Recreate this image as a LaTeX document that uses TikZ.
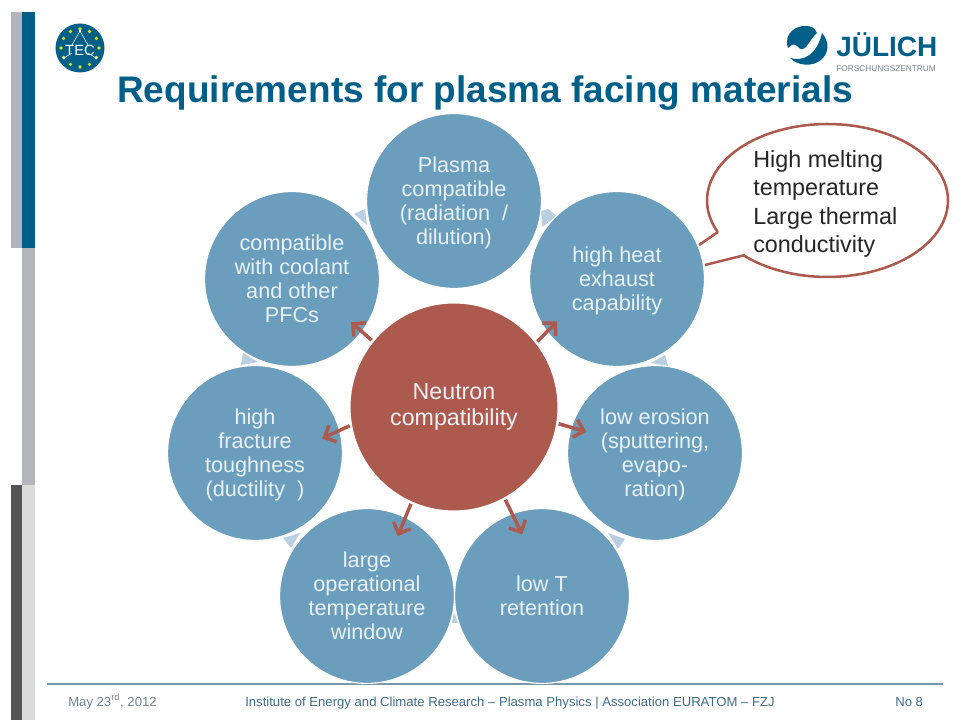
\documentclass[tikz,border=0pt]{standalone}
\usepackage{fontspec}
\setmainfont{Liberation Sans}
\usetikzlibrary{calc, arrows.meta}
\definecolor{petrol}{HTML}{005F88}
\definecolor{bluedisc}{HTML}{6B9DBD}
\definecolor{reddisc}{HTML}{AD5A4E}
\definecolor{wedgeblue}{HTML}{BACFDF}
\definecolor{barpale}{HTML}{B3B4BC}
\definecolor{bardark}{HTML}{555558}
\definecolor{barlight}{HTML}{DADBDB}
\definecolor{footblue}{HTML}{3F6C88}
\definecolor{footgrey}{HTML}{6F8390}
\definecolor{disctext}{HTML}{E8F1F6}
\tikzset{
    topic/.style={circle,fill=bluedisc,draw=white,line width=0.8pt,minimum size=4.37cm,inner sep=0pt,align=center,text=disctext,text depth=0pt,font=\fontsize{15.4}{17}\selectfont},
    core/.style={circle,fill=reddisc,draw=white,line width=0.8pt,minimum size=5.2cm,inner sep=0pt,align=center,text=disctext,font=\fontsize{16.5}{18.5}\selectfont},
    push/.style={draw=reddisc,line width=2.5pt,-{Straight Barb[length=6.5pt,width=13pt]},shorten <=1pt},
    wedge/.style={fill=wedgeblue},
    footer/.style={anchor=base west,inner sep=0pt,font=\fontsize{9.33}{11}\selectfont},
}
\begin{document}
\begin{tikzpicture}[x=0.025cm,y=-0.025cm]
    \useasboundingbox (0,0) rectangle (960,720);
    \fill[white] (0,0) rectangle (960,720);
    % side bars
    \fill[barpale] (11,12) rectangle (22,248);
    \fill[petrol] (22,12) rectangle (35,248);
    \fill[barpale] (22,248) rectangle (35,485);
    \fill[bardark] (11,485) rectangle (22,720);
    \fill[barlight] (22,485) rectangle (35,720);
    % TEC logo
    \fill[petrol] (80,48) circle (24.5);
    \foreach \a in {0,30,...,330}{
        \fill[yellow!85!green] ($(80,48)+(\a:19)$) circle (1.8);
    }
    \draw[white,line width=0.4pt] (72,45)--(80,31)--(88,45);
    \draw[white,line width=0.4pt] (64,58)--(72,53);
    \draw[white,line width=0.4pt] (96,58)--(88,53);
    \foreach \x/\y in {80/31,64/58,96/58}{
        \fill[white] (\x,\y) circle (1.3);
    }
    \node (teclabel) at (80,50) {\color{white}\fontsize{10.5}{12}\selectfont TEC};
    % Juelich logo
    \fill[petrol] (788,48) .. controls (783,33) and (797,25) .. (806,26) .. controls (811,26) and (815,28) .. (817,33) .. controls (812,37) and (810,42) .. (806,47) .. controls (803,50) and (800,50) .. (797,46) .. controls (794,43) and (791,45) .. (788,48);
    \fill[petrol] (822,33) .. controls (830,42) and (829,53) .. (821,60) .. controls (812,67) and (798,66) .. (790,58) .. controls (803,62) and (817,55) .. (822,33);
    \node[anchor=base west,inner sep=0pt,text=petrol,font=\fontsize{19.9}{22}\selectfont\bfseries] (juelich) at (836,57) {JÜLICH};
    \node[anchor=base west,inner sep=0pt,text=footgrey,font=\fontsize{5.9}{7}\selectfont] (fz) at (836,72) {FORSCHUNGSZENTRUM};
    % title
    \node[anchor=base west,inner sep=0pt,text=petrol,font=\fontsize{26.3}{30}\selectfont\bfseries] (title) at (117,103) {Requirements for plasma facing materials};
    % footer
    \draw[footblue!70,line width=1pt] (47,684)--(943,684);
    \node[footer,text=footgrey] (datum) at (68,706) {May 23\textsuperscript{rd}, 2012};
    \node[footer,text=footblue] (institute) at (245,706) {Institute of Energy and Climate Research – Plasma Physics | Association EURATOM – FZJ};
    \node[footer,text=footblue] (pageno) at (895,706) {No 8};
    % little wedges between the discs
    \fill[wedge] (541,211)--(548,209)--(557,216)--(542,227)--cycle;
    \fill[wedge] (651,363)--(665,355)--(668,366)--cycle;
    \fill[wedge] (608,533)--(625,539)--(618,549)--cycle;
    \fill[wedge] (452,623)--(458,623)--(454,612)--cycle;
    \fill[wedge] (283,538)--(300,533)--(291,548)--cycle;
    \fill[wedge] (241,365)--(243,353)--(258,362)--cycle;
    \fill[wedge] (354,214)--(365,209)--(367,225)--cycle;
    % discs
    \node[topic] (plasma) at (454,201) {Plasma\\compatible\\(radiation \ /\\dilution)};
    \node[topic] (heat) at (617,279) {high heat\\exhaust\\capability};
    \node[topic] (erosion) at (655,453) {low erosion\\(sputtering,\\evapo-\\ration)};
    \node[topic] (retention) at (542,596) {low T\\retention};
    \node[topic] (window) at (367,596) {large\\operational\\temperature\\window};
    \node[topic] (fracture) at (255,453) {high\\fracture\\toughness\\(ductility \ )};
    \node[topic] (coolant) at (292,279) {compatible\\with coolant\\and other\\PFCs};
    \node[core] (neutron) at (454,407) {Neutron\\compatibility};
    % arrows
    \foreach \a/\t/\b/\s in {38.4/heat/217.5/10.6,-9/erosion/163.4/11.4,-61.6/retention/110.6/16.7,246/window/64.6/14.8,190/fracture/15.3/13.9,141.6/coolant/-37.5/10.6}{
        \draw[push,shorten >=-\s pt] (neutron.\a)--(\t.\b);
    }
    % callout
    \draw[draw=reddisc,line width=1.8pt,fill=white,line join=miter] (705,265)--(745,255)--plot[domain=134:-204.4,samples=90] ({827.5+120.5*cos(\x)},{200.5+76.5*sin(\x)})--(718,232)--(699,245);
    \node[anchor=west,inner sep=0pt,align=left,text=black!85,font=\fontsize{16.6}{20.3}\selectfont] (melting) at (753,204) {High melting\\temperature\\Large thermal\\conductivity};
\end{tikzpicture}
\end{document}
